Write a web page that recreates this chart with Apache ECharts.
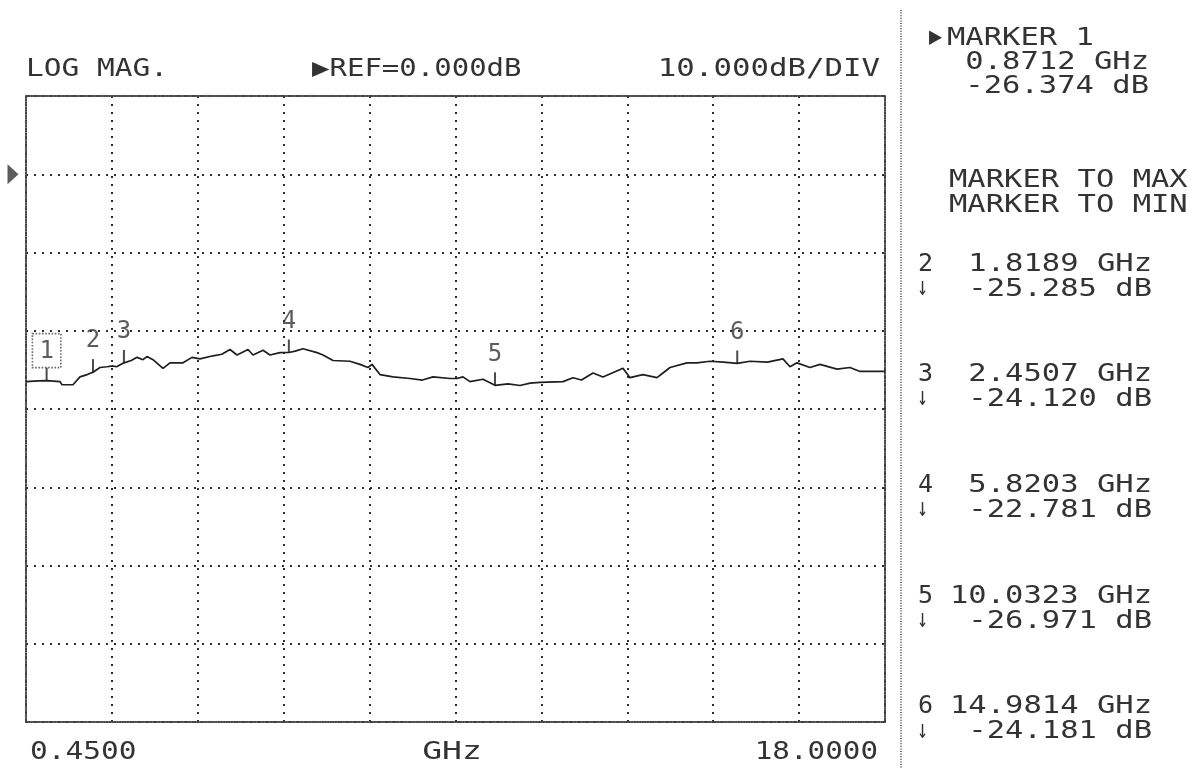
<!DOCTYPE html>
<html>
<head>
<meta charset="utf-8">
<script src="https://cdn.jsdelivr.net/npm/echarts@6/dist/echarts.min.js"></script>
<style>html,body{margin:0;padding:0;background:#fff}#c{width:1200px;height:768px}</style>
</head>
<body>
<div id="c"></div>
<script>
// ---- data ----
const traceFreq = [0.45,0.70,0.8712,1.145,1.186,1.41,1.553,1.70,1.8189,1.962,2.105,2.227,2.30,2.4507,2.60,2.718,2.84,2.922,3.045,3.249,3.392,3.658,3.841,4.005,4.27,4.45,4.618,4.761,4.986,5.088,5.292,5.435,5.639,5.8203,5.95,6.109,6.395,6.518,6.722,7.069,7.274,7.437,7.519,7.682,7.948,8.295,8.55,8.765,9.112,9.255,9.378,9.521,9.787,10.0323,10.30,10.542,10.75,10.951,11.421,11.625,11.80,12.034,12.238,12.647,12.79,13.055,13.341,13.464,13.607,13.954,14.159,14.424,14.70,14.9814,15.241,15.60,15.915,16.058,16.201,16.467,16.671,17.019,17.285,17.489,18.0];
const traceDb = [-26.5,-26.4,-26.37,-26.5,-26.9,-26.9,-25.9,-25.6,-25.3,-24.7,-24.6,-24.5,-24.6,-24.1,-23.8,-23.4,-23.7,-23.3,-23.7,-24.8,-24.1,-24.1,-23.4,-23.6,-23.2,-23.0,-22.4,-23.1,-22.4,-23.1,-22.5,-23.1,-22.8,-22.78,-22.6,-22.3,-22.8,-23.1,-23.8,-23.9,-24.3,-24.7,-24.3,-25.6,-25.9,-26.1,-26.3,-25.9,-26.1,-26.1,-25.9,-26.5,-26.2,-26.97,-26.8,-27.0,-26.7,-26.6,-26.5,-26.0,-26.3,-25.4,-25.9,-24.8,-26.0,-25.6,-26.0,-25.4,-24.7,-24.1,-24.1,-23.9,-24.0,-24.18,-23.9,-24.0,-23.6,-24.6,-24.1,-24.7,-24.3,-24.9,-24.7,-25.2,-25.2];
const markerFreq = [0.8712, 1.8189, 2.4507, 5.8203, 10.0323, 14.9814];
const markerDb = [-26.374, -25.285, -24.120, -22.781, -26.971, -24.181];
const refDb = 0;
const xMin = 0.45, xMax = 18.0;
const yMin = -70, yMax = 10, yStep = 10;
const headerLabels = ['LOG MAG.', '\u25B6REF=0.000dB', '10.000dB/DIV'];
const xTickLabels = ['0.4500', 'GHz', '18.0000'];
const panelLabels = ['MARKER 1', 'MARKER TO MAX', 'MARKER TO MIN'];

// ---- styles ----
const INK = '#333333';
const FONT = '"DejaVu Sans Mono", monospace';
const gridDots = { color: '#2e2e2e', width: 2, type: [2, 6] };
const borderDots = { color: '#444444', width: 2, type: [1, 1.6] };

function txt(str, x, y, align, sx, size) {
  return {
    type: 'text', x: x, y: y, scaleX: sx, silent: true,
    style: {
      text: str, font: (size || 25) + 'px ' + FONT, fill: INK,
      align: align, textAlign: align, verticalAlign: 'middle', textVerticalAlign: 'middle'
    }
  };
}

const graphics = [
  txt(headerLabels[0], 26, 69, 'left', 1.18),
  txt(headerLabels[1], 312, 69, 'left', 1.16),
  txt(headerLabels[2], 880, 69, 'right', 1.23),
  txt(xTickLabels[0], 30, 752, 'left', 1.18),
  txt(xTickLabels[1], 452, 752, 'center', 1.32),
  txt(xTickLabels[2], 878, 752, 'right', 1.17),
  { type: 'line', silent: true, shape: { x1: 901, y1: 10, x2: 901, y2: 768 },
    style: { stroke: '#444', lineWidth: 1.6, lineDash: [1, 1.6] } },
  txt('\u25B6', 929, 38, 'left', 0.9, 24),
  txt(panelLabels[0], 947, 38, 'left', 1.22),
  txt(markerFreq[0].toFixed(4) + ' GHz', 1149, 62, 'right', 1.22),
  txt(markerDb[0].toFixed(3) + ' dB', 1149, 86, 'right', 1.22),
  txt(panelLabels[1], 949, 180, 'left', 1.22),
  txt(panelLabels[2], 949, 205, 'left', 1.22)
];
for (let i = 1; i < markerFreq.length; i++) {
  const yF = 264 + (i - 1) * 110.7;
  graphics.push(txt(String(i + 1), 918, yF, 'left', 1.0));
  graphics.push(txt(markerFreq[i].toFixed(4) + ' GHz', 1152, yF, 'right', 1.22));
  graphics.push(txt('\u2193', 917, yF + 24, 'left', 0.7, 26));
  graphics.push(txt(markerDb[i].toFixed(3) + ' dB', 1152, yF + 25, 'right', 1.22));
}

const markerData = markerFreq.map((f, i) => {
  const item = { value: [f, markerDb[i]] };
  if (i === 0) {
    item.label = { borderColor: '#444', borderWidth: 1.6, borderType: 'dotted', padding: [6, 7, 4, 7], distance: 0 };
  }
  return item;
});

const chart = echarts.init(document.getElementById('c'), null, { renderer: 'canvas' });
chart.setOption({
  backgroundColor: '#ffffff',
  animation: false,
  grid: { left: 26, right: 315, top: 96, bottom: 46, containLabel: false },
  xAxis: [
    { type: 'value', min: xMin, max: xMax, position: 'bottom',
      axisLine: { show: true, onZero: false, lineStyle: borderDots }, axisTick: { show: false },
      axisLabel: { show: false }, splitLine: { show: false } },
    { type: 'value', min: 0, max: 10, interval: 1, position: 'top',
      axisLine: { show: true, onZero: false, lineStyle: borderDots }, axisTick: { show: false },
      axisLabel: { show: false }, splitLine: { show: true, lineStyle: gridDots } }
  ],
  yAxis: [
    { type: 'value', min: yMin, max: yMax, interval: yStep, position: 'left',
      axisLine: { show: true, onZero: false, lineStyle: borderDots }, axisTick: { show: false },
      axisLabel: { show: false }, splitLine: { show: true, lineStyle: gridDots } },
    { type: 'value', min: yMin, max: yMax, interval: yStep, position: 'right',
      axisLine: { show: true, onZero: false, lineStyle: borderDots }, axisTick: { show: false },
      axisLabel: { show: false }, splitLine: { show: false } }
  ],
  series: [
    { type: 'line', name: 'trace', xAxisIndex: 0, yAxisIndex: 0, showSymbol: false, symbol: 'none',
      lineStyle: { color: '#1e1e1e', width: 1.7 },
      data: traceFreq.map((f, i) => [f, traceDb[i]]), z: 5 },
    { type: 'scatter', name: 'markers', xAxisIndex: 0, yAxisIndex: 0, clip: false,
      symbol: 'rect', symbolSize: [2, 13], symbolOffset: [0, -6.5],
      itemStyle: { color: '#1e1e1e' },
      label: { show: true, position: 'top', distance: 6, formatter: p => String(p.dataIndex + 1),
        fontFamily: FONT, fontSize: 24, color: INK },
      data: markerData, z: 6 },
    { type: 'scatter', name: 'ref', xAxisIndex: 0, yAxisIndex: 0, clip: false,
      symbol: 'path://M0,0 L10,8 L0,16 Z', symbolSize: [11, 20], symbolOffset: [-13, 0],
      itemStyle: { color: '#333' }, data: [[xMin, refDb]], z: 6 }
  ],
  graphic: graphics
});
</script>
</body>
</html>
